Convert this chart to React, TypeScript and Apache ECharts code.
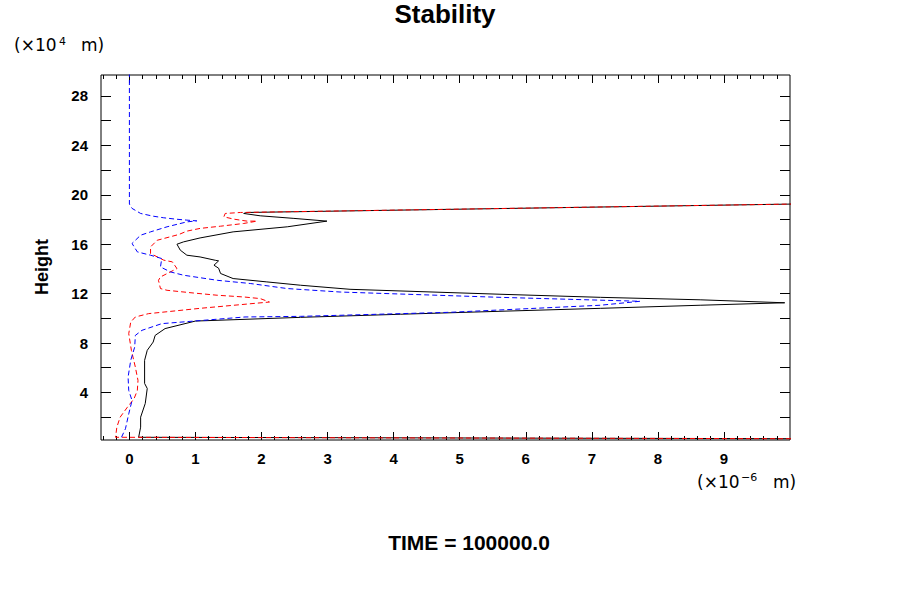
import React, { useEffect, useRef } from "react";
import * as echarts from "echarts";

// Axis ranges (x in 1e-6 m, height in 1e4 m)
const X_MIN = -0.43;
const X_MAX = 10.0;
const Y_MIN = 0.15;
const Y_MAX = 29.7;

// Tick labels / tick positions
const xLabelValues = [0, 1, 2, 3, 4, 5, 6, 7, 8, 9];
const xMinorValues: number[] = [];
for (let i = -2; i <= 49; i++) {
  if (i % 5 !== 0) xMinorValues.push(Math.round(i * 0.2 * 10) / 10);
}
const yLabelValues = [4, 8, 12, 16, 20, 24, 28];
const yTickValues = [2, 4, 6, 8, 10, 12, 14, 16, 18, 20, 22, 24, 26, 28];

// Series profiles: [value, height]
const blackProfile: [number, number][] = [
  [10.5, 0.25], [0.14, 0.37], [0.17, 1.19], [0.17, 2.0], [0.24, 3.11], [0.27, 4.32],
  [0.23, 4.73], [0.23, 6.6], [0.27, 7.41], [0.36, 8.08], [0.39, 8.62], [0.54, 9.17],
  [1.0, 9.78], [1.75, 9.92], [2.59, 10.08], [4.1, 10.33], [5.61, 10.57], [7.13, 10.81],
  [8.64, 11.06], [9.92, 11.26], [8.64, 11.5], [7.13, 11.7], [5.61, 11.95], [3.34, 12.35],
  [2.59, 12.68], [2.08, 12.95], [1.57, 13.22], [1.38, 13.63], [1.35, 14.06], [1.28, 14.3],
  [1.35, 14.65], [1.3, 14.7], [1.07, 14.97], [0.87, 15.11], [0.77, 15.52], [0.72, 16.0],
  [0.82, 16.19], [1.07, 16.51], [1.57, 17.0], [2.39, 17.41], [2.99, 17.87], [2.49, 18.09],
  [1.98, 18.3], [1.73, 18.49], [1.78, 18.57], [10.5, 19.29],
];

const redProfile: [number, number][] = [
  [10.5, 0.25], [-0.21, 0.37], [-0.19, 1.19], [-0.14, 2.0], [-0.03, 2.81], [0.07, 3.49],
  [0.12, 4.16], [0.13, 4.97], [0.09, 6.05], [0.03, 7.41], [-0.01, 8.76], [0.02, 9.7],
  [0.09, 10.11], [0.29, 10.38], [1.07, 10.81], [2.12, 11.32], [1.98, 11.6], [1.73, 11.73],
  [1.33, 11.87], [0.97, 12.05], [0.57, 12.27], [0.47, 12.41], [0.44, 13.08], [0.47, 13.35],
  [0.72, 14.03], [0.65, 14.57], [0.52, 14.71], [0.32, 15.25], [0.32, 15.78], [0.42, 16.32],
  [0.75, 16.79], [0.87, 17.06], [1.07, 17.28], [1.38, 17.46], [1.73, 17.68], [1.93, 17.87],
  [1.78, 17.87], [1.58, 18.03], [1.43, 18.22], [1.45, 18.49], [1.68, 18.57], [10.5, 19.29],
];

const blueProfile: [number, number][] = [
  [-0.12, 0.37], [-0.06, 1.06], [-0.01, 2.27], [0.04, 3.35], [-0.01, 4.16], [-0.02, 5.24],
  [0.02, 6.6], [0.08, 7.67], [0.09, 8.62], [0.19, 9.03], [0.49, 9.57], [1.75, 10.11],
  [2.59, 10.16], [4.86, 10.49], [7.13, 11.06], [7.73, 11.38], [5.61, 11.7], [3.19, 12.13],
  [2.39, 12.41], [1.83, 12.82], [1.33, 13.08], [0.82, 13.49], [0.62, 13.76], [0.47, 14.16],
  [0.49, 14.84], [0.32, 15.11], [0.12, 15.38], [0.04, 16.06], [0.17, 16.73], [0.32, 17.0],
  [0.57, 17.41], [0.87, 17.81], [1.02, 17.89], [0.87, 17.95], [0.7, 18.03], [0.52, 18.14],
  [0.36, 18.27], [0.17, 18.49], [0.04, 18.9], [0, 19.25], [0, 29.9],
];

const FONT = "'Liberation Sans', Arial, Helvetica, sans-serif";
const UNIT_FONT = "'DejaVu Sans', sans-serif";

function xAxisDef(position: "top" | "bottom", ticks: number[], len: number, labels: boolean) {
  return {
    type: "value",
    gridIndex: 0,
    position,
    min: X_MIN,
    max: X_MAX,
    axisLine: { show: false, onZero: false },
    splitLine: { show: false },
    axisTick: {
      show: true,
      inside: true,
      length: len,
      customValues: ticks,
      lineStyle: { color: "#000", width: 1 },
    },
    axisLabel: labels
      ? {
          show: true,
          customValues: xLabelValues,
          color: "#000",
          fontWeight: "bold",
          fontSize: 15,
          fontFamily: FONT,
          margin: 11,
        }
      : { show: false },
  };
}

function yAxisDef(position: "left" | "right", labels: boolean) {
  return {
    type: "value",
    gridIndex: 0,
    position,
    min: Y_MIN,
    max: Y_MAX,
    axisLine: { show: false, onZero: false },
    splitLine: { show: false },
    axisTick: {
      show: true,
      inside: true,
      length: 10,
      customValues: yTickValues,
      lineStyle: { color: "#000", width: 1 },
    },
    axisLabel: labels
      ? {
          show: true,
          customValues: yLabelValues,
          color: "#000",
          fontWeight: "bold",
          fontSize: 15,
          fontFamily: FONT,
          margin: 13,
        }
      : { show: false },
  };
}

function plainText(x: number, y: number, text: string, font: string, align = "left") {
  return {
    type: "text",
    x,
    y,
    style: { text, fill: "#000", font, textAlign: align, textVerticalAlign: "middle" },
  };
}

export default function App() {
  const ref = useRef<HTMLDivElement>(null);

  useEffect(() => {
    if (!ref.current) return;
    const chart = echarts.init(ref.current, undefined, { renderer: "svg" });
    chart.setOption({
      animation: false,
      backgroundColor: "#fff",
      grid: {
        left: 101,
        right: 110,
        top: 75,
        bottom: 160,
        show: true,
        borderColor: "#000",
        borderWidth: 1,
        backgroundColor: "transparent",
      },
      xAxis: [
        xAxisDef("bottom", xLabelValues, 8, true),
        xAxisDef("bottom", xMinorValues, 4, false),
        xAxisDef("top", xLabelValues, 8, false),
        xAxisDef("top", xMinorValues, 4, false),
      ],
      yAxis: [yAxisDef("left", true), yAxisDef("right", false)],
      series: [
        {
          type: "line",
          name: "black",
          xAxisIndex: 0,
          yAxisIndex: 0,
          data: blackProfile,
          showSymbol: false,
          symbol: "none",
          lineStyle: { color: "#000", width: 1, type: "solid" },
          z: 2,
        },
        {
          type: "line",
          name: "red",
          xAxisIndex: 0,
          yAxisIndex: 0,
          data: redProfile,
          showSymbol: false,
          symbol: "none",
          lineStyle: { color: "#ff0000", width: 1, type: [5, 3] },
          z: 3,
        },
        {
          type: "line",
          name: "blue",
          xAxisIndex: 0,
          yAxisIndex: 0,
          data: blueProfile,
          showSymbol: false,
          symbol: "none",
          lineStyle: { color: "#0000ff", width: 1, type: [5, 3] },
          z: 4,
        },
      ],
      graphic: [
        plainText(445, 14, "Stability", `bold 26px ${FONT}`, "center"),
        plainText(14, 45, "(×10", `17px ${UNIT_FONT}`),
        plainText(59, 41, "4", `11px ${UNIT_FONT}`),
        plainText(81, 45, "m)", `17px ${UNIT_FONT}`),
        {
          type: "text",
          x: 42,
          y: 267,
          rotation: Math.PI / 2,
          style: {
            text: "Height",
            fill: "#000",
            font: `bold 18px ${FONT}`,
            textAlign: "center",
            textVerticalAlign: "middle",
          },
        },
        plainText(697, 482, "(×10", `17px ${UNIT_FONT}`),
        plainText(741, 477, "−6", `11px ${UNIT_FONT}`),
        plainText(773, 482, "m)", `17px ${UNIT_FONT}`),
        plainText(469, 542, "TIME = 100000.0", `bold 21px ${FONT}`, "center"),
      ],
    });
    return () => {
      chart.dispose();
    };
  }, []);

  return (
    <div
      ref={ref}
      style={{ position: "fixed", left: 0, top: 0, width: 900, height: 600, background: "#fff" }}
    />
  );
}
